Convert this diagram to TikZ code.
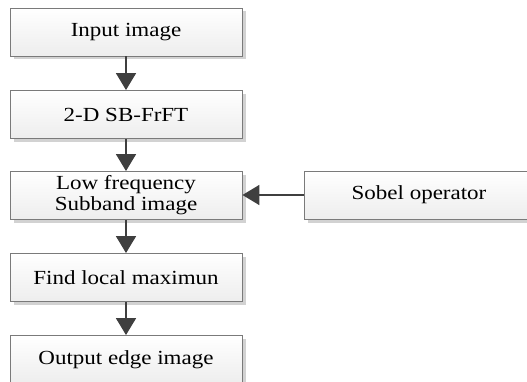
\documentclass[tikz,border=0pt]{standalone}
\usepackage{fontspec}
\setmainfont{Liberation Serif}[FakeStretch=1.15]
\usetikzlibrary{arrows.meta,shadows}
\definecolor{edge}{HTML}{7A7A7A}
\definecolor{ink}{HTML}{3F3F3F}
\tikzset{
  stepbox/.style={draw=edge, line width=0.9pt, top color=white, bottom color=gray!14,
    minimum height=48pt, inner sep=0pt, align=center,
    font=\fontsize{20}{21}\selectfont,
    drop shadow={shadow xshift=3.5pt, shadow yshift=-3.5pt, fill=gray!35, opacity=1}},
  flow/.style={draw=ink, line width=1.8pt, -{Triangle[width=20pt,length=17pt]}}
}
\begin{document}
\begin{tikzpicture}[x=1pt,y=1pt]
\useasboundingbox (0,0) rectangle (527,381);
\clip (0,0) rectangle (527,381);
\node[stepbox, minimum width=232pt] (in)   at (126,349)   {Input image};
\node[stepbox, minimum width=232pt] (sb)   at (126,266.5) {2-D SB-FrFT};
\node[stepbox, minimum width=232pt] (low)  at (126,185.5) {Low frequency\\Subband image};
\node[stepbox, minimum width=232pt] (max)  at (126,103.5) {Find local maximun};
\node[stepbox, minimum width=232pt] (out)  at (126,21.5)  {Output edge image};
\node[stepbox, minimum width=230pt] (sob)  at (419,186)   {Sobel operator};
\draw[flow] (in) -- (sb);
\draw[flow] (sb) -- (low);
\draw[flow] (low) -- (max);
\draw[flow] (max) -- (out);
\draw[flow] (sob.west) -- (low.east |- sob.west);
\end{tikzpicture}
\end{document}
